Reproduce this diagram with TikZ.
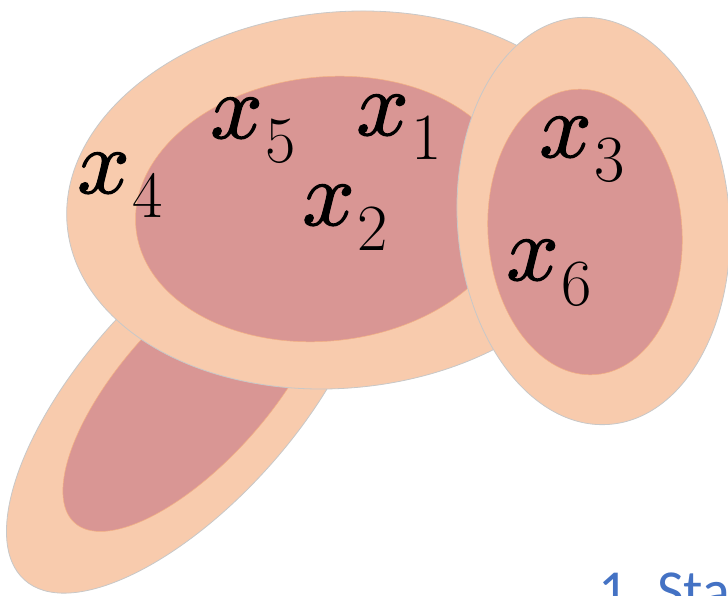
\documentclass[tikz,border=0pt]{standalone}
\usepackage{fontspec}
\newfontfamily\listfont{Carlito}
\newfontfamily\xmfont{latinmodern-math.otf}[FakeBold=1.3]
\definecolor{peach}{HTML}{F8CBAD}
\definecolor{rose}{HTML}{D99694}
\definecolor{rimgray}{HTML}{C8C8C8}
\definecolor{rimorange}{HTML}{F4B183}
\definecolor{listblue}{HTML}{4472C4}
\newcommand\xsub[1]{{\xmfont\fontsize{92}{100}\selectfont\symbol{"1D465}}\kern3pt\raisebox{-25pt}{\fontsize{66}{70}\selectfont #1}}
\begin{document}
\begin{tikzpicture}[x=1pt,y=-1pt,
  outerblob/.style={fill=peach,draw=rimgray,line width=0.8pt},
  innerblob/.style={fill=rose,draw=rimorange,line width=0.5pt},
  varlabel/.style={anchor=base west,inner sep=0pt},
  listtext/.style={anchor=base west,inner sep=0pt,text=listblue,font=\listfont\fontsize{58}{66}\selectfont}]
\useasboundingbox (0,0) rectangle (728,596);
\clip (0,0) rectangle (728,596);
\fill[white] (0,0) rectangle (728,596);
% lower-left blob
\draw[outerblob, rotate around={48:(189,397)}] (189,397) ellipse [x radius=246, y radius=106];
\draw[innerblob, rotate around={48:(195,389)}] (195,389) ellipse [x radius=180, y radius=73];
% big blob
\draw[outerblob, rotate around={5.5:(342,200)}] (342,200) ellipse [x radius=276, y radius=188];
\draw[innerblob, rotate around={6:(325,209)}] (325,209) ellipse [x radius=190, y radius=132];
% right blob
\draw[outerblob, rotate around={4.5:(593.5,221)}] (593.5,221) ellipse [x radius=136, y radius=204];
\draw[innerblob, rotate around={4:(585,232)}] (585,232) ellipse [x radius=97, y radius=143];
% labels
\node[varlabel] (l4) at (77,193) {\xsub{4}};
\node[varlabel] (l5) at (210,138) {\xsub{5}};
\node[varlabel] (l1) at (356,135) {\xsub{1}};
\node[varlabel] (l2) at (302,225) {\xsub{2}};
\node[varlabel] (l3) at (539,157) {\xsub{3}};
\node[varlabel] (l6) at (506,280) {\xsub{6}};
\node[listtext] (item) at (598,610) {1.\hspace{15pt}Sta};
\end{tikzpicture}
\end{document}
